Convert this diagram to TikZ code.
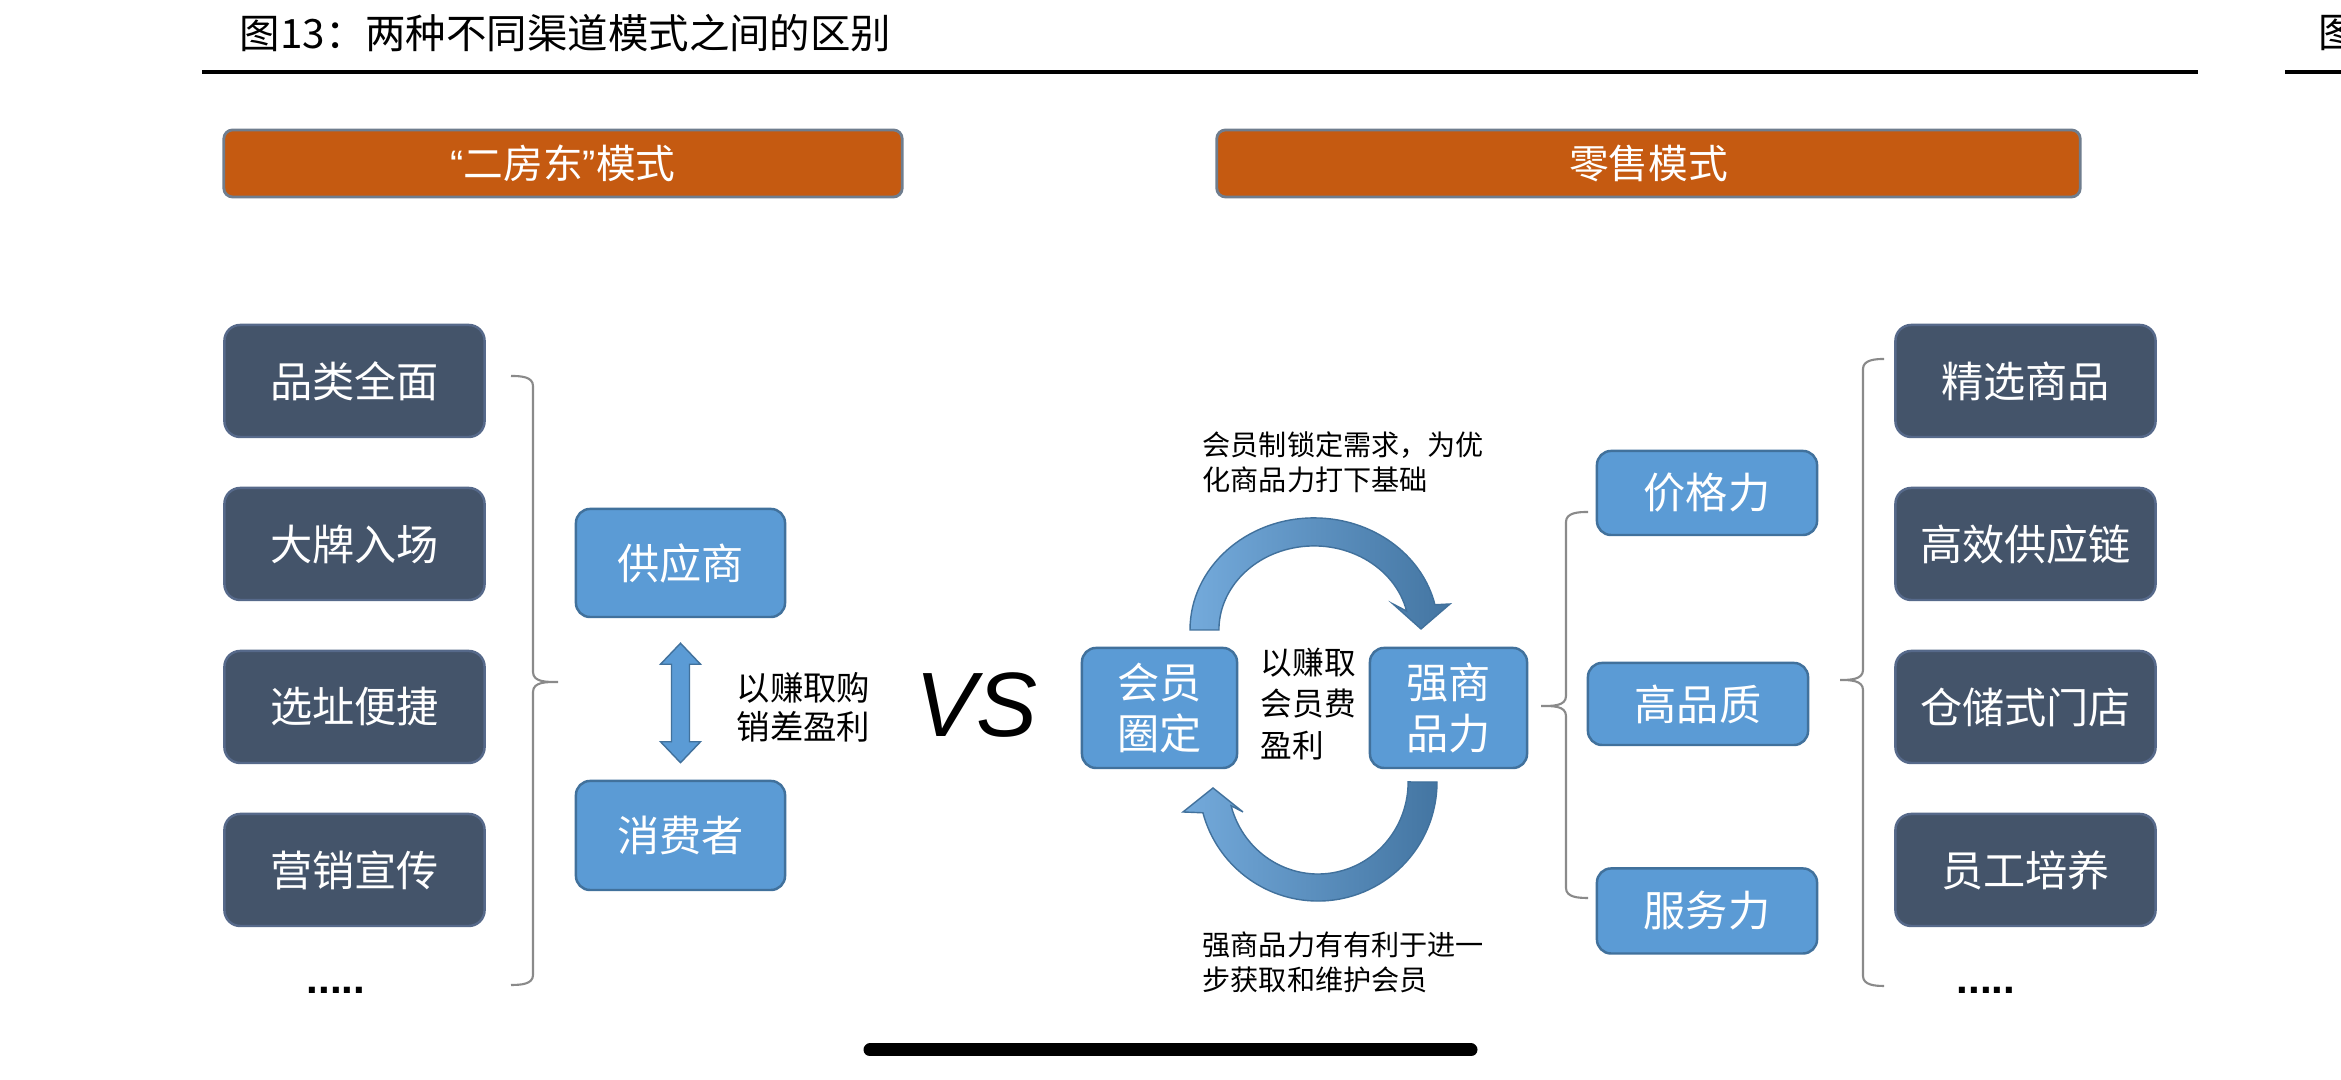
\documentclass[tikz,border=0pt]{standalone}
\usepackage{fontspec}
\setmainfont{Noto Sans CJK SC}
\newfontfamily\vsfont{Liberation Sans}
\usetikzlibrary{calc,positioning}
\definecolor{slate}{HTML}{44546A}
\definecolor{slateedge}{HTML}{56698A}
\definecolor{bluefill}{HTML}{5B9BD5}
\definecolor{blueedge}{HTML}{41719C}
\definecolor{orangefill}{HTML}{C55A11}
\definecolor{orangeedge}{HTML}{6F7D8E}
\definecolor{brkgray}{HTML}{8A8A8A}
\newcommand{\szf}[2]{\fontsize{#1pt}{#2pt}\selectfont}

\begin{document}
\begin{tikzpicture}[x=0.01cm,y=0.01cm,
  darkbox/.style={draw=slateedge,fill=slate,line width=0.7pt,rounded corners=4.5pt,minimum width=2.6cm,minimum height=1.12cm,inner sep=0pt,text=white,font=\szf{12}{14}},
  bluebox/.style={draw=blueedge,fill=bluefill,line width=0.7pt,rounded corners=4pt,inner sep=0pt,text=white,font=\szf{12}{14.5},align=center},
  hdr/.style={draw=orangeedge,fill=orangefill,line width=0.8pt,rounded corners=2.5pt,minimum height=0.67cm,inner sep=0pt,text=white,font=\szf{11.3}{13}},
  note/.style={anchor=west,align=left,inner sep=0pt},
  brk/.style={draw=brkgray,line width=0.6pt},
  dots/.style={font=\vsfont\bfseries\szf{12}{14}},
  looparrow/.style={draw=blueedge,line width=0.4pt,left color=bluefill!85!white,right color=blueedge!90!bluefill}]
\fill[white] (0,0) rectangle (2341,1080);
\useasboundingbox (0,0) rectangle (2341,1080);
% title and rule
\node[note,font=\szf{11.5}{13}] (title) at (239,1047) {图13：两种不同渠道模式之间的区别};
\draw[line width=0.9pt] (202,1008) -- (2198,1008);
\node[note,font=\szf{11.5}{13}] (next) at (2318,1047) {图};
\draw[line width=0.9pt] (2285,1008) -- (2341,1008);
% headers
\node[hdr,minimum width=6.78cm] (hl) at (563,916.5) {{\vsfont “}二房东{\vsfont ”}模式};
\node[hdr,minimum width=8.63cm] (hr) at (1648.5,916.5) {零售模式};
% left: features
\foreach \txt [count=\i] in {品类全面,大牌入场,选址便捷,营销宣传}
  \node[darkbox] (l\i) at (354.5,{862-163*\i}) {\txt};
\node[dots] (ld) at (336,90) {.....};
\draw[brk] (511,704) to[out=0,in=90] (533,694) -- (533,408) to[out=-90,in=180] (558,398)
  to[out=180,in=90] (533,388) -- (533,105) to[out=-90,in=0] (511,95);
% supplier / consumer
\node[bluebox,minimum width=2.09cm,minimum height=1.08cm] (sup) at (680.5,517) {供应商};
\node[bluebox,minimum width=2.09cm,minimum height=1.09cm] (con) at (680.5,244.5) {消费者};
\coordinate (dt) at ($(sup.south)+(0,-25)$);
\coordinate (db) at ($(con.north)+(0,17)$);
\filldraw[fill=bluefill,draw=blueedge,line width=0.4pt] (dt) -- ++(-20,-21) -- ++(11,0)
  -- ($(db)+(-9,21)$) -- ++(-11,0) -- (db) -- ++(20,21) -- ++(-11,0)
  -- ($(dt)+(9,-21)$) -- ++(11,0) -- cycle;
\node[note,font=\szf{9.5}{11}] (spread) at (736,372.5) {以赚取购\\销差盈利};
\node[font=\vsfont\itshape\szf{26}{26}] (vs) at (976,375) {VS};
% membership loop
\node[bluebox,minimum width=1.55cm,minimum height=1.2cm] (mem) at (1159.5,372) {会员\\圈定};
\node[bluebox,minimum width=1.57cm,minimum height=1.2cm] (str) at (1448.5,372) {强商\\品力};
\node[note,font=\szf{9}{11.8}] (fee) at (1260,376) {以赚取\\会员费\\盈利};
\node[note,font=\szf{8}{10}] (lock) at (1202,618) {会员制锁定需求，为优\\化商品力打下基础};
\node[note,font=\szf{8}{10}] (keep) at (1202,118) {强商品力有有利于进一\\步获取和维护会员};
\draw[looparrow] (1190,450) arc[start angle=180,end angle=13,x radius=1.24cm,y radius=1.12cm]
  -- (1450,476) -- (1421,451) -- (1393,476) -- (1406.6,468.9)
  arc[start angle=13,end angle=180,x radius=0.95cm,y radius=0.84cm] -- cycle;
\draw[looparrow] (1437,298) arc[start angle=0,end angle=-165,radius=1.19cm]
  -- (1183,268) -- (1213,292) -- (1243,268) -- (1231.1,274.2)
  arc[start angle=-165,end angle=0,x radius=0.9cm,y radius=0.92cm] -- cycle;
% product strength
\draw[brk] (1588,568) to[out=180,in=90] (1566,558) -- (1566,384) to[out=-90,in=0] (1541,374)
  to[out=0,in=90] (1566,364) -- (1566,192) to[out=-90,in=180] (1588,182);
\node[bluebox,minimum width=2.2cm,minimum height=0.84cm] (price) at (1707,587) {价格力};
\node[bluebox,minimum width=2.2cm,minimum height=0.82cm] (qual) at (1698,376) {高品质};
\node[bluebox,minimum width=2.2cm,minimum height=0.85cm] (serv) at (1707,169) {服务力};
\draw[brk] (1884,721) to[out=180,in=90] (1863,711) -- (1863,410) to[out=-90,in=0] (1840,400)
  to[out=0,in=90] (1863,390) -- (1863,104) to[out=-90,in=180] (1884,94);
\foreach \txt [count=\i] in {精选商品,高效供应链,仓储式门店,员工培养}
  \node[darkbox] (r\i) at (2025.5,{862-163*\i}) {\txt};
\node[dots] (rd) at (1986,90) {.....};
% screen bar
\draw[line width=3.7pt,line cap=round] (870,30) -- (1471,30);
\end{tikzpicture}
\end{document}
